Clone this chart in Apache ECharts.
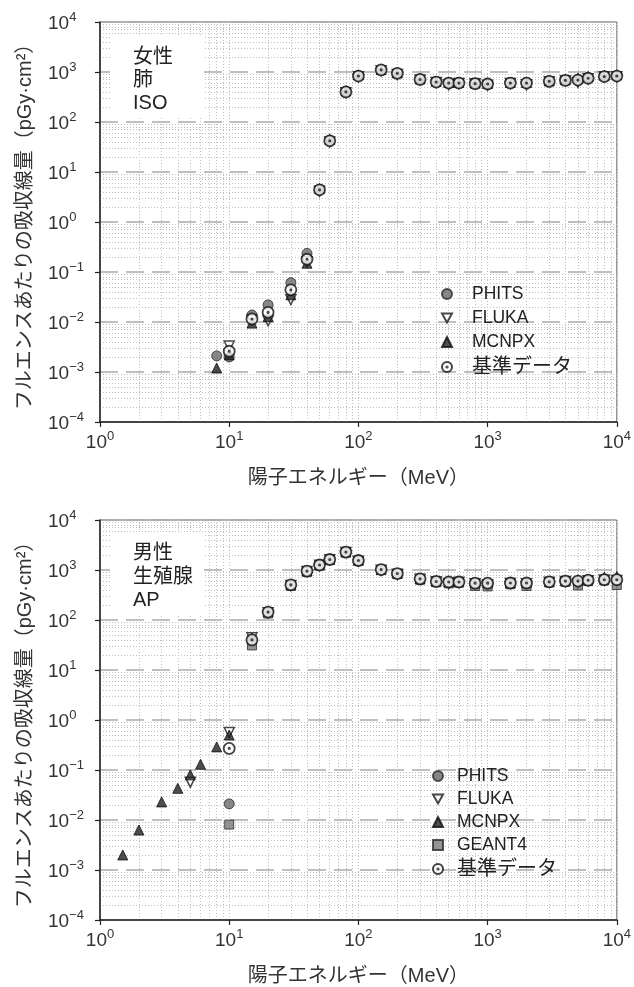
<!DOCTYPE html>
<html>
<head>
<meta charset="utf-8">
<title>陽子エネルギーと吸収線量</title>
<script src="https://cdn.jsdelivr.net/npm/echarts@6.0.0/dist/echarts.min.js"></script>
<style>
  html, body { margin: 0; padding: 0; background: #fff; }
  #chart { width: 634px; height: 987px; }
</style>
</head>
<body>
<div id="chart"></div>
<script>
// 上段：女性・肺・ISO
const lungEnergy = [8, 10, 15, 20, 30, 40, 50, 60, 80, 100, 150, 200, 300, 400, 500, 600, 800, 1000, 1500, 2000, 3000, 4000, 5000, 6000, 8000, 10000]
const lungPhits = [0.0021, 0.0020, 0.0138, 0.022, 0.061, 0.235, 4.5, 43, 410, 850, 1110, 950, 720, 640, 610, 610, 595, 585, 610, 610, 660, 690, 700, 760, 820, 840]
const lungFluka = [null, 0.0033, 0.011, 0.0105, 0.028, 0.16, 4.1, 40, 385, 800, 1060, 890, 690, 615, 560, 590, 580, 545, 590, 555, 640, 670, 620, 730, 800, 800]
const lungMcnpx = [0.0012, 0.0022, 0.0095, 0.0128, 0.035, 0.15, 4.7, 45, 420, 880, 1120, 960, 730, 650, 620, 620, 600, 590, 620, 620, 670, 700, 760, 820, 860, 880]
const lungRef = [null, 0.0026, 0.0115, 0.0156, 0.044, 0.18, 4.4, 42, 400, 830, 1100, 940, 710, 630, 600, 600, 585, 575, 600, 600, 650, 680, 690, 750, 810, 830]

// 下段：男性・生殖腺・AP
const gonadEnergy = [1.5, 2, 3, 4, 5, 6, 8, 10, 15, 20, 30, 40, 50, 60, 80, 100, 150, 200, 300, 400, 500, 600, 800, 1000, 1500, 2000, 3000, 4000, 5000, 6000, 8000, 10000]
const gonadPhits = [null, null, null, null, null, null, null, 0.021, 40, 145, 505, 950, 1260, 1620, 2280, 1550, 1020, 850, 665, 590, 575, 575, 545, 545, 550, 550, 580, 600, 600, 625, 640, 640]
const gonadFluka = [null, null, null, null, 0.057, null, null, 0.56, 44, 140, 490, 930, 1240, 1600, 2250, 1500, 990, 820, 650, 580, 535, 570, 530, 505, 540, 530, 570, 590, 530, 610, 630, 620]
const gonadMcnpx = [0.002, 0.0063, 0.023, 0.043, 0.08, 0.13, 0.29, 0.50, 43, 148, 515, 965, 1280, 1640, 2300, 1570, 1035, 865, 675, 600, 585, 585, 555, 555, 560, 560, 595, 620, 640, 660, 720, 740]
const gonadGeant4 = [null, null, null, null, null, null, null, 0.0081, 31, 135, 480, 920, 1230, 1580, 2250, 1530, 1000, 830, 640, 570, 540, 560, 480, 470, 520, 480, 560, 580, 490, 600, 620, 500]
const gonadRef = [null, null, null, null, null, null, null, 0.27, 40, 144, 505, 950, 1260, 1620, 2280, 1550, 1020, 850, 665, 590, 575, 575, 545, 545, 550, 550, 580, 600, 600, 625, 640, 640]

const fontFamily = "'Liberation Sans', 'Noto Sans CJK JP', sans-serif"
// 白抜きの丸＋中心の点
const refSymbol = 'path://M0 10A10 10 0 1 0 20 10A10 10 0 1 0 0 10ZM8.8 10A1.2 1.2 0 1 0 11.2 10A1.2 1.2 0 1 0 8.8 10Z'
// 下向き三角
const downTriangle = 'path://M0 0L20 0L10 18Z'

function pairs (xs, ys) {
  const out = []
  xs.forEach((x, i) => {
    if (ys[i] != null) out.push([x, ys[i]])
  })
  return out
}

function powLabel (v) {
  const e = Math.round(Math.log10(v))
  return '{b|10}{s|' + (e < 0 ? '−' + (-e) : e) + '}'
}

const rich = {
  b: { fontSize: 19, color: '#333', fontFamily, lineHeight: 22, verticalAlign: 'bottom' },
  s: { fontSize: 13, color: '#333', fontFamily, lineHeight: 13, verticalAlign: 'top' }
}

const dotted = { color: '#c0c0c0', type: [1, 2], width: 1 }

function makeX (gridIndex) {
  return {
    type: 'log',
    gridIndex,
    min: 1,
    max: 10000,
    logBase: 10,
    name: '陽子エネルギー（MeV）',
    nameLocation: 'middle',
    nameGap: 46,
    nameTextStyle: { fontSize: 20, color: '#333', fontFamily },
    axisLine: { onZero: false, lineStyle: { color: '#222', width: 1.5 } },
    axisTick: { length: 5, lineStyle: { color: '#222', width: 1.2 } },
    axisLabel: { margin: 8, formatter: powLabel, rich },
    splitLine: { show: true, lineStyle: dotted },
    minorTick: { show: false, splitNumber: 9 },
    minorSplitLine: { show: true, lineStyle: dotted }
  }
}

function makeY (gridIndex) {
  return {
    type: 'log',
    gridIndex,
    min: 0.0001,
    max: 10000,
    logBase: 10,
    name: 'フルエンスあたりの吸収線量（pGy·cm²）',
    nameLocation: 'middle',
    nameGap: 65,
    nameRotate: 90,
    nameTextStyle: { fontSize: 20, color: '#333', fontFamily },
    axisLine: { onZero: false, lineStyle: { color: '#222', width: 1.5 } },
    axisTick: { length: 5, lineStyle: { color: '#222', width: 1.2 } },
    axisLabel: { margin: 52, align: 'left', formatter: powLabel, rich },
    splitLine: { show: true, lineStyle: { color: '#aaa', type: [18, 8], width: 1.5 } },
    minorTick: { show: false, splitNumber: 9 },
    minorSplitLine: { show: true, lineStyle: dotted }
  }
}

const styles = {
  PHITS: { symbol: 'circle', symbolSize: 10, itemStyle: { color: '#6a6a6a', borderColor: '#2a2a2a', borderWidth: 1 } },
  FLUKA: { symbol: downTriangle, symbolSize: 10, itemStyle: { color: '#fff', borderColor: '#1a1a1a', borderWidth: 1.5 } },
  MCNPX: { symbol: 'triangle', symbolSize: 10, itemStyle: { color: '#222', borderColor: '#111', borderWidth: 1 } },
  GEANT4: { symbol: 'rect', symbolSize: 9, itemStyle: { color: '#7a7a7a', borderColor: '#2a2a2a', borderWidth: 1 } },
  '基準データ': { symbol: refSymbol, symbolSize: 11, itemStyle: { color: '#fff', borderColor: '#111', borderWidth: 1.8 } }
}

function makeSeries (name, idx, xs, ys) {
  return Object.assign({
    name,
    type: 'scatter',
    xAxisIndex: idx,
    yAxisIndex: idx,
    data: pairs(xs, ys),
    emphasis: { disabled: true }
  }, styles[name])
}

function makeLegend (names, left, top, gap, textPad) {
  return {
    data: names,
    orient: 'vertical',
    left,
    top,
    itemWidth: 10,
    itemHeight: 10,
    itemGap: gap,
    selectedMode: false,
    formatter: (name) => name === '基準データ' ? '{j|' + name + '}' : name,
    textStyle: {
      fontSize: 17.5,
      color: '#222',
      fontFamily,
      lineHeight: 18,
      padding: [0, 0, 0, textPad],
      rich: { j: { fontSize: 20, color: '#222', fontFamily, lineHeight: 18 } }
    }
  }
}

const chart = echarts.init(document.getElementById('chart'))
chart.setOption({
  backgroundColor: '#fff',
  animation: false,
  grid: [
    { left: 100, top: 22, width: 520, height: 400, show: true, borderColor: '#666', borderWidth: 1 },
    { left: 100, top: 520, width: 520, height: 400, show: true, borderColor: '#666', borderWidth: 1 }
  ],
  xAxis: [makeX(0), makeX(1)],
  yAxis: [makeY(0), makeY(1)],
  legend: [
    makeLegend(['PHITS', 'FLUKA', 'MCNPX', '基準データ'], 436, 280, 6, 15),
    makeLegend(['PHITS', 'FLUKA', 'MCNPX', 'GEANT4', '基準データ'], 427, 762, 5, 9)
  ],
  graphic: [
    { type: 'rect', left: 110, top: 35, z: 1, shape: { width: 93, height: 83 }, style: { fill: '#fff' } },
    { type: 'text', left: 133, top: 46, z: 2, style: { text: '女性\n肺\nISO', fontSize: 20, lineHeight: 23, fill: '#222', fontFamily } },
    { type: 'rect', left: 110, top: 532, z: 1, shape: { width: 93, height: 84 }, style: { fill: '#fff' } },
    { type: 'text', left: 133, top: 542, z: 2, style: { text: '男性\n生殖腺\nAP', fontSize: 20, lineHeight: 23.5, fill: '#222', fontFamily } }
  ],
  series: [
    makeSeries('PHITS', 0, lungEnergy, lungPhits),
    makeSeries('FLUKA', 0, lungEnergy, lungFluka),
    makeSeries('MCNPX', 0, lungEnergy, lungMcnpx),
    makeSeries('基準データ', 0, lungEnergy, lungRef),
    makeSeries('PHITS', 1, gonadEnergy, gonadPhits),
    makeSeries('FLUKA', 1, gonadEnergy, gonadFluka),
    makeSeries('MCNPX', 1, gonadEnergy, gonadMcnpx),
    makeSeries('GEANT4', 1, gonadEnergy, gonadGeant4),
    makeSeries('基準データ', 1, gonadEnergy, gonadRef)
  ]
})
</script>
</body>
</html>
